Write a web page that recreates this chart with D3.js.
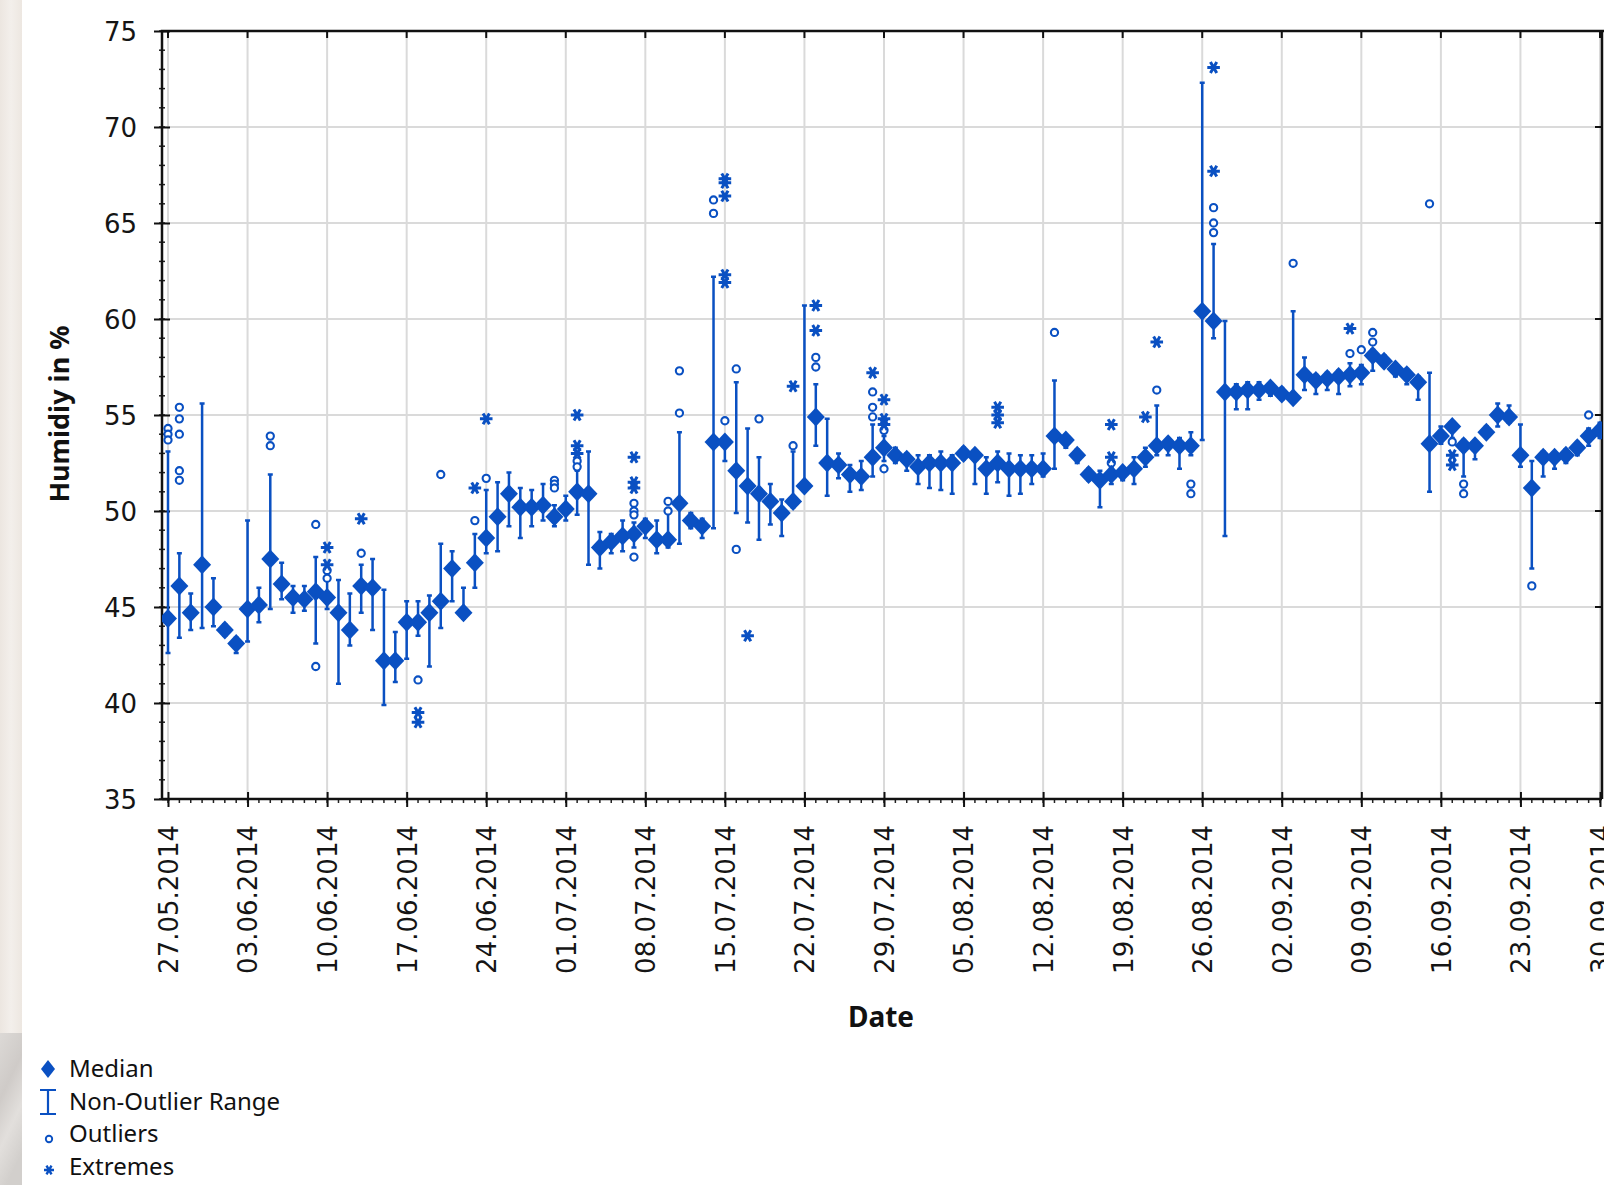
<!DOCTYPE html>
<html>
<head>
<meta charset="utf-8">
<script src="https://cdn.jsdelivr.net/npm/d3@7"></script>
<style>
  html, body { margin: 0; padding: 0; background: #ffffff; }
  svg { display: block; }
</style>
</head>
<body>
<svg id="chart" width="1604" height="1185"></svg>
<script>
// Daily humidity box statistics, 27.05.2014 - 30.09.2014 (one entry per day)
const firstDay = new Date(Date.UTC(2014, 4, 27));
const lastDay = new Date(Date.UTC(2014, 8, 30));
const days = d3.utcDay.range(firstDay, d3.utcDay.offset(lastDay, 1));

const median = [
  44.4, 46.1, 44.7, 47.2, 45.0, 43.8, 43.1, 44.9, 45.1, 47.5,
  46.2, 45.5, 45.4, 45.8, 45.5, 44.7, 43.8, 46.1, 46.0, 42.2,
  42.2, 44.2, 44.2, 44.7, 45.3, 47.0, 44.7, 47.3, 48.6, 49.7,
  50.9, 50.2, 50.2, 50.3, 49.7, 50.1, 51.0, 50.9, 48.1, 48.4,
  48.7, 48.8, 49.2, 48.5, 48.5, 50.4, 49.5, 49.2, 53.6, 53.6,
  52.1, 51.3, 50.9, 50.5, 49.9, 50.5, 51.3, 54.9, 52.5, 52.4,
  51.9, 51.8, 52.8, 53.3, 52.9, 52.7, 52.3, 52.5, 52.5, 52.5,
  53.0, 52.9, 52.2, 52.5, 52.2, 52.2, 52.2, 52.2, 53.9, 53.7,
  52.9, 51.9, 51.6, 51.9, 52.0, 52.2, 52.8, 53.4, 53.5, 53.4,
  53.4, 60.4, 59.9, 56.2, 56.2, 56.3, 56.3, 56.4, 56.1, 55.9,
  57.1, 56.8, 56.9, 57.0, 57.1, 57.2, 58.1, 57.8, 57.4, 57.1,
  56.7, 53.5, 53.9, 54.4, 53.4, 53.4, 54.1, 55.0, 54.9, 52.9,
  51.2, 52.8, 52.8, 52.9, 53.3, 53.9, 54.2
];

const rangeHigh = [
  53.1, 47.8, 45.7, 55.6, 46.5, 44.1, 43.4, 49.5, 46.0, 51.9,
  47.3, 46.1, 46.1, 47.6, 46.4, 46.4, 45.7, 47.2, 47.5, 45.9,
  43.7, 45.3, 45.3, 45.6, 48.3, 47.9, 46.0, 48.8, 51.1, 51.5,
  52.0, 51.2, 51.1, 51.4, 50.3, 50.8, 52.1, 53.1, 48.9, 48.8,
  49.5, 49.4, 49.6, 49.5, 50.0, 54.1, 49.9, 49.6, 62.2, 53.8,
  56.7, 54.3, 52.8, 51.4, 50.6, 53.1, 60.7, 56.6, 54.8, 53.0,
  52.4, 52.6, 54.5, 53.9, 53.3, 53.0, 52.9, 52.9, 53.1, 52.9,
  53.3, 53.0, 52.8, 53.1, 53.0, 52.9, 52.9, 53.0, 56.8, 53.9,
  53.2, 52.2, 52.1, 52.3, 52.2, 52.8, 53.3, 55.5, 53.7, 53.8,
  54.1, 72.3, 63.9, 59.9, 56.6, 56.7, 56.7, 56.6, 56.4, 60.4,
  58.0, 57.1, 57.2, 57.3, 57.7, 57.6, 58.4, 58.1, 57.7, 57.4,
  57.0, 57.2, 54.4, 54.6, 53.7, 53.6, 54.4, 55.6, 55.5, 54.5,
  52.6, 53.1, 53.0, 53.2, 53.6, 54.3, 54.6
];

const rangeLow = [
  42.6, 43.4, 43.8, 43.9, 44.0, 43.5, 42.6, 43.2, 44.2, 44.9,
  45.4, 44.7, 44.8, 43.1, 44.9, 41.0, 43.0, 44.7, 43.8, 39.9,
  41.1, 42.3, 43.5, 41.9, 43.9, 45.3, 44.4, 46.0, 47.8, 47.9,
  49.2, 48.6, 49.2, 49.5, 49.2, 49.5, 49.8, 47.2, 47.0, 47.8,
  47.9, 48.1, 48.6, 47.8, 48.1, 48.3, 49.1, 48.6, 49.1, 52.6,
  49.9, 49.4, 48.5, 49.3, 48.7, 50.2, 51.0, 53.4, 50.8, 51.7,
  51.0, 51.1, 51.8, 52.6, 52.5, 52.1, 51.4, 51.2, 51.1, 50.9,
  52.7, 51.4, 50.9, 51.5, 50.8, 50.9, 51.4, 51.8, 52.2, 53.3,
  52.5, 51.6, 50.2, 51.4, 51.6, 51.4, 52.3, 52.9, 52.9, 52.2,
  52.9, 53.7, 59.0, 48.7, 55.3, 55.3, 55.8, 56.0, 55.8, 55.7,
  56.3, 56.1, 56.3, 56.1, 56.5, 56.6, 57.3, 57.6, 57.0, 56.6,
  55.8, 51.0, 53.5, 53.8, 51.8, 52.7, 53.9, 54.4, 54.6, 52.3,
  47.0, 51.8, 52.2, 52.5, 52.9, 53.4, 53.8
];

// [day index, value]
const outlierPoints = [
  [0, 54.3], [0, 54.0], [0, 53.7],
  [1, 55.4], [1, 54.8], [1, 54.0], [1, 52.1], [1, 51.6],
  [9, 53.9], [9, 53.4],
  [13, 49.3], [13, 41.9],
  [14, 46.9], [14, 46.5],
  [17, 47.8], [22, 41.2], [24, 51.9], [27, 49.5], [28, 51.7],
  [34, 51.6], [34, 51.4], [34, 51.2],
  [36, 52.6], [36, 52.3],
  [41, 50.4], [41, 50.0], [41, 49.8], [41, 47.6],
  [44, 50.5], [44, 50.0],
  [45, 57.3], [45, 55.1],
  [48, 66.2], [48, 65.5],
  [49, 54.7], [50, 57.4], [50, 48.0], [52, 54.8], [55, 53.4],
  [57, 58.0], [57, 57.5],
  [62, 56.2], [62, 55.4], [62, 54.9],
  [63, 54.2], [63, 52.2],
  [78, 59.3], [83, 52.5], [87, 56.3],
  [90, 51.4], [90, 50.9],
  [92, 65.8], [92, 65.0], [92, 64.5],
  [99, 62.9], [104, 58.2], [105, 58.4],
  [106, 59.3], [106, 58.8],
  [111, 66.0],
  [113, 54.5], [113, 53.6],
  [114, 51.4], [114, 50.9],
  [120, 46.1], [125, 55.0]
];

const extremePoints = [
  [14, 48.1], [14, 47.2],
  [17, 49.6],
  [22, 39.5], [22, 39.0],
  [27, 51.2], [28, 54.8],
  [36, 55.0], [36, 53.4], [36, 53.0],
  [41, 52.8], [41, 51.5], [41, 51.2],
  [49, 67.3], [49, 67.1], [49, 66.4], [49, 62.3], [49, 61.9],
  [51, 43.5], [55, 56.5],
  [57, 60.7], [57, 59.4],
  [62, 57.2],
  [63, 55.8], [63, 54.8], [63, 54.5],
  [73, 55.4], [73, 55.0], [73, 54.6],
  [83, 54.5], [83, 52.8],
  [86, 54.9], [87, 58.8],
  [92, 73.1], [92, 67.7],
  [104, 59.5],
  [113, 52.9], [113, 52.4]
];

const yTicks = [35, 40, 45, 50, 55, 60, 65, 70, 75];
const xTicks = d3.utcDay.range(firstDay, d3.utcDay.offset(lastDay, 1), 7);
const legendLabels = ["Median", "Non-Outlier Range", "Outliers", "Extremes"];
const yTitle = "Humidiy in %";
const xTitle = "Date";

// ---- drawing ----
const blue = "#0a50c2";
const frame = { left: 162, right: 1602, top: 31, bottom: 799 };

const svg = d3.select("#chart");

// textured strip along the left edge
const defs = svg.append("defs");
const g1 = defs.append("linearGradient").attr("id", "stripTop").attr("x1", 0).attr("x2", 1).attr("y1", 0).attr("y2", 0);
g1.append("stop").attr("offset", "0%").attr("stop-color", "#ece6e0");
g1.append("stop").attr("offset", "50%").attr("stop-color", "#f3efeb");
g1.append("stop").attr("offset", "100%").attr("stop-color", "#ede7e1");
const g2 = defs.append("linearGradient").attr("id", "stripBottom").attr("x1", 0).attr("x2", 0.3).attr("y1", 0).attr("y2", 1);
g2.append("stop").attr("offset", "0%").attr("stop-color", "#dcd9d6");
g2.append("stop").attr("offset", "40%").attr("stop-color", "#cfcbc8");
g2.append("stop").attr("offset", "70%").attr("stop-color", "#e2dfdc");
g2.append("stop").attr("offset", "100%").attr("stop-color", "#d2cfcc");
svg.append("rect").attr("x", 0).attr("y", 0).attr("width", 22).attr("height", 1033).attr("fill", "url(#stripTop)");
svg.append("rect").attr("x", 0).attr("y", 1033).attr("width", 22).attr("height", 152).attr("fill", "url(#stripBottom)");

defs.append("clipPath").attr("id", "plotClip")
  .append("rect").attr("x", frame.left).attr("y", frame.top - 20)
  .attr("width", frame.right - frame.left).attr("height", frame.bottom - frame.top + 20);

const x = d3.scaleUtc().domain([firstDay, lastDay]).range([168, 1600]);
const y = d3.scaleLinear().domain([35, 75]).range([frame.bottom, frame.top]);

// grid
const grid = svg.append("g").attr("stroke", "#dadada").attr("stroke-width", 2);
grid.selectAll("line.v").data(xTicks).join("line")
  .attr("x1", d => x(d)).attr("x2", d => x(d))
  .attr("y1", frame.top).attr("y2", frame.bottom);
grid.selectAll("line.h").data(yTicks).join("line")
  .attr("x1", frame.left).attr("x2", frame.right)
  .attr("y1", d => y(d)).attr("y2", d => y(d));

// minor ticks
const minor = svg.append("g").attr("stroke", "#222").attr("stroke-width", 1.5);
minor.selectAll("line.ym").data(d3.range(35, 76, 1)).join("line")
  .attr("x1", frame.left - 3).attr("x2", frame.left + 3)
  .attr("y1", d => y(d)).attr("y2", d => y(d));
minor.selectAll("line.xm").data(days).join("line")
  .attr("x1", d => x(d)).attr("x2", d => x(d))
  .attr("y1", frame.bottom).attr("y2", frame.bottom + 4);

// y axis
const yAxis = svg.append("g").attr("transform", `translate(${frame.left},0)`)
  .call(d3.axisLeft(y).tickValues(yTicks).tickSize(8).tickPadding(17).tickFormat(d3.format("d")));
yAxis.select(".domain").remove();
yAxis.selectAll(".tick line").attr("stroke", "#111").attr("stroke-width", 2).attr("x2", -8).attr("x1", 8);
yAxis.selectAll(".tick text").attr("font-family", "DejaVu Sans, Verdana, sans-serif")
  .attr("font-size", 26).attr("fill", "#151515").attr("dy", "0.36em");

// x axis
const xAxis = svg.append("g").attr("transform", `translate(0,${frame.bottom})`)
  .call(d3.axisBottom(x).tickValues(xTicks).tickSize(8).tickFormat(d3.utcFormat("%d.%m.%Y")));
xAxis.select(".domain").remove();
xAxis.selectAll(".tick line").attr("stroke", "#111").attr("stroke-width", 2).attr("y1", -7).attr("y2", 8);
xAxis.selectAll(".tick text")
  .attr("font-family", "DejaVu Sans, Verdana, sans-serif").attr("font-size", 26).attr("fill", "#151515")
  .attr("transform", "rotate(-90)").attr("text-anchor", "end")
  .attr("x", -26).attr("y", 0).attr("dy", "0.36em");

// top and right frame ticks
const frameTicks = svg.append("g").attr("stroke", "#111").attr("stroke-width", 2);
frameTicks.selectAll("line.t").data(xTicks).join("line")
  .attr("x1", d => x(d)).attr("x2", d => x(d)).attr("y1", frame.top).attr("y2", frame.top + 7);
frameTicks.selectAll("line.r").data(yTicks).join("line")
  .attr("x1", frame.right - 7).attr("x2", frame.right).attr("y1", d => y(d)).attr("y2", d => y(d));

// frame
svg.append("path")
  .attr("d", `M${frame.left},${frame.bottom}V${frame.top}H1604M${frame.right},${frame.top}V${frame.bottom}M${frame.left},${frame.bottom}H${frame.right}`)
  .attr("fill", "none").attr("stroke", "#111").attr("stroke-width", 2.5);

// titles
svg.append("text").attr("transform", "translate(69,414) rotate(-90)")
  .attr("text-anchor", "middle").attr("font-family", "Noto Sans, sans-serif")
  .attr("font-weight", "bold").attr("font-size", 27).attr("fill", "#111").text(yTitle);
svg.append("text").attr("x", 881).attr("y", 1027)
  .attr("text-anchor", "middle").attr("font-family", "Noto Sans, sans-serif")
  .attr("font-weight", "bold").attr("font-size", 28).attr("fill", "#111").text(xTitle);

// marks
const plot = svg.append("g").attr("clip-path", "url(#plotClip)");
const boxes = days.map((d, i) => ({ date: d, med: median[i], lo: rangeLow[i], hi: rangeHigh[i] }));

const diamond = (hw, hh) => `M0,${-hh}L${hw},0L0,${hh}L${-hw},0Z`;
const asterisk = r => {
  const a = Math.PI / 3;
  let p = "";
  for (let k = 0; k < 3; k++) {
    const dx = r * Math.cos(k * a), dy = r * Math.sin(k * a);
    p += `M${-dx},${-dy}L${dx},${dy}`;
  }
  return p;
};

const whisk = plot.append("g").attr("stroke", blue).attr("stroke-width", 2.5).attr("fill", "none");
whisk.selectAll("path").data(boxes).join("path")
  .attr("d", d => {
    const cx = x(d.date), t = y(d.hi), b = y(d.lo);
    return `M${cx},${t}V${b}M${cx - 2.5},${t}H${cx + 2.5}M${cx - 2.5},${b}H${cx + 2.5}`;
  });

plot.append("g").selectAll("circle").data(outlierPoints).join("circle")
  .attr("cx", d => x(days[d[0]])).attr("cy", d => y(d[1])).attr("r", 3.6)
  .attr("fill", "#fff").attr("stroke", blue).attr("stroke-width", 2.1);

plot.append("g").selectAll("path").data(extremePoints).join("path")
  .attr("transform", d => `translate(${x(days[d[0]])},${y(d[1])})`)
  .attr("d", asterisk(6.3)).attr("stroke", blue).attr("stroke-width", 3).attr("fill", "none");

plot.append("g").selectAll("path").data(boxes).join("path")
  .attr("transform", d => `translate(${x(d.date)},${y(d.med)})`)
  .attr("d", diamond(9, 9.5)).attr("fill", blue);

// legend
const legend = svg.append("g");
const legendY = [1069, 1102, 1136, 1168];
const textBase = [1077, 1110, 1142, 1175];
legend.append("path").attr("transform", `translate(48,${legendY[0]})`).attr("d", diamond(7, 9)).attr("fill", blue);
legend.append("path")
  .attr("d", `M48,1090V1114M40,1090H56M40,1114H56`).attr("stroke", blue).attr("stroke-width", 2.2).attr("fill", "none");
legend.append("circle").attr("cx", 49).attr("cy", 1139).attr("r", 3.2).attr("fill", "#fff").attr("stroke", blue).attr("stroke-width", 1.9);
legend.append("path").attr("transform", "translate(49,1170)").attr("d", asterisk(5))
  .attr("stroke", blue).attr("stroke-width", 2.4).attr("fill", "none");
legend.selectAll("text").data(legendLabels).join("text")
  .attr("x", 69).attr("y", (d, i) => textBase[i])
  .attr("font-family", "Noto Sans, sans-serif").attr("font-size", 24).attr("fill", "#111")
  .text(d => d);
</script>
</body>
</html>
